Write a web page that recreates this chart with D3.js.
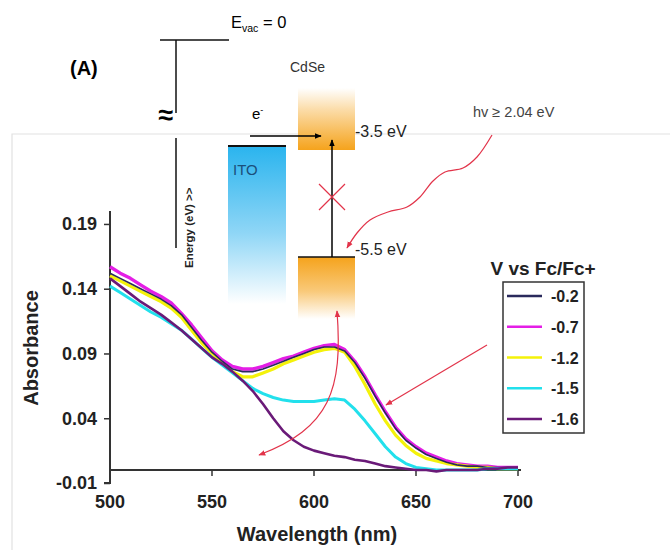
<!DOCTYPE html>
<html>
<head>
<meta charset="utf-8">
<script src="https://d3js.org/d3.v7.min.js"></script>
<style>
  body { margin: 0; background: #fff; }
  text { font-family: Arial, "Liberation Sans", sans-serif; }
</style>
</head>
<body>
<script>
// absorbance spectra, one value per 5 nm
var wavelengths = d3.range(500, 701, 5);

var seriesNames = ["-0.2", "-0.7", "-1.2", "-1.5", "-1.6"];
var seriesColors = ["#2a2a5c", "#e41ee6", "#f4f20a", "#22e0ec", "#6a1a78"];

var absM02 = [0.152, 0.148, 0.144, 0.140, 0.136, 0.132, 0.127, 0.120, 0.110, 0.100,
              0.091, 0.084, 0.078, 0.076, 0.076, 0.078, 0.081, 0.084, 0.087, 0.090,
              0.093, 0.095, 0.095, 0.092, 0.083, 0.071, 0.057, 0.044, 0.032, 0.023,
              0.017, 0.012, 0.009, 0.006, 0.004, 0.003, 0.003, 0.002, 0.002, 0.002, 0.002];
var absM07 = [0.157, 0.152, 0.148, 0.143, 0.138, 0.134, 0.129, 0.121, 0.112, 0.102,
              0.092, 0.085, 0.080, 0.078, 0.078, 0.080, 0.083, 0.086, 0.088, 0.091,
              0.094, 0.096, 0.097, 0.093, 0.084, 0.072, 0.058, 0.045, 0.033, 0.024,
              0.018, 0.013, 0.010, 0.007, 0.005, 0.004, 0.003, 0.003, 0.002, 0.002, 0.002];
var absM12 = [0.150, 0.146, 0.142, 0.138, 0.134, 0.130, 0.125, 0.118, 0.108, 0.098,
              0.090, 0.082, 0.076, 0.072, 0.072, 0.075, 0.078, 0.082, 0.085, 0.088,
              0.091, 0.093, 0.094, 0.091, 0.080, 0.066, 0.051, 0.038, 0.027, 0.019,
              0.013, 0.009, 0.007, 0.005, 0.004, 0.003, 0.002, 0.002, 0.001, 0.001, 0.001];
var absM15 = [0.142, 0.137, 0.132, 0.127, 0.122, 0.118, 0.113, 0.108, 0.101, 0.094,
              0.087, 0.081, 0.075, 0.069, 0.063, 0.059, 0.056, 0.054, 0.053, 0.053,
              0.053, 0.054, 0.055, 0.054, 0.047, 0.038, 0.028, 0.018, 0.010, 0.005,
              0.002, 0.001, 0.000, 0.000, 0.000, 0.000, 0.000, 0.001, 0.001, 0.001, 0.001];
var absM16 = [0.148, 0.142, 0.136, 0.130, 0.125, 0.120, 0.114, 0.108, 0.101, 0.094,
              0.087, 0.082, 0.076, 0.069, 0.061, 0.051, 0.040, 0.030, 0.023, 0.018,
              0.015, 0.013, 0.011, 0.010, 0.008, 0.007, 0.005, 0.003, 0.002, 0.001,
              0.000, 0.000, -0.001, 0.000, 0.000, 0.000, 0.000, 0.001, 0.001, 0.002, 0.002];

var seriesValues = [absM02, absM07, absM12, absM15, absM16];
var drawOrder = [1, 2, 0, 3, 4];
var strokeWidths = [1.6, 3.4, 3.2, 3, 2.6];

var yTicks = [-0.01, 0.04, 0.09, 0.14, 0.19];
var xTicks = [500, 550, 600, 650, 700];

var width = 670, height = 550;

var svg = d3.select("body").append("svg")
    .attr("width", width)
    .attr("height", height);

var defs = svg.append("defs");

function vGradient(id, stops) {
    var g = defs.append("linearGradient")
        .attr("id", id)
        .attr("x1", 0).attr("y1", 0)
        .attr("x2", 0).attr("y2", 1);
    stops.forEach(function (s) {
        g.append("stop").attr("offset", s[0]).attr("stop-color", s[1]);
    });
}
vGradient("cdseTop", [["0%", "#ffffff"], ["35%", "#fbdca8"], ["100%", "#f5a31c"]]);
vGradient("cdseBot", [["0%", "#f5a31c"], ["55%", "#f9c979"], ["100%", "#ffffff"]]);
vGradient("ito", [["0%", "#2ab4ee"], ["55%", "#8fd6f6"], ["100%", "#ffffff"]]);

var red = "#e2344a";
var arrow = function (id, color) {
    defs.append("marker")
        .attr("id", id)
        .attr("viewBox", "0 0 10 10")
        .attr("refX", 9).attr("refY", 5)
        .attr("markerWidth", 7).attr("markerHeight", 7)
        .attr("orient", "auto-start-reverse")
        .attr("markerUnits", "userSpaceOnUse")
        .append("path")
        .attr("d", "M0,1 L10,5 L0,9 z")
        .attr("fill", color);
};
arrow("arrBlack", "#000");
arrow("arrRed", red);

// frame of the pasted spectrum picture
svg.append("path")
    .attr("d", "M12,550 L12,134 L670,134")
    .attr("fill", "none")
    .attr("stroke", "#e2e2e2")
    .attr("stroke-width", 1.2);

// ---------- energy diagram ----------
var diag = svg.append("g");

diag.append("text").attr("x", 70).attr("y", 75)
    .attr("font-size", 20).attr("font-weight", "bold").text("(A)");

diag.append("line").attr("x1", 160).attr("y1", 40).attr("x2", 229).attr("y2", 40)
    .attr("stroke", "#111").attr("stroke-width", 1.5);
diag.append("line").attr("x1", 176).attr("y1", 40).attr("x2", 176).attr("y2", 113)
    .attr("stroke", "#111").attr("stroke-width", 1.5);
diag.append("line").attr("x1", 176).attr("y1", 138).attr("x2", 176).attr("y2", 248)
    .attr("stroke", "#111").attr("stroke-width", 1.5);
diag.append("text").attr("x", 166).attr("y", 124).attr("text-anchor", "middle")
    .attr("font-size", 27).attr("font-weight", "bold").text("\u2248");

var evac = diag.append("text").attr("x", 231).attr("y", 28).attr("font-size", 16.5);
evac.append("tspan").text("E");
evac.append("tspan").attr("font-size", 10.5).attr("dy", 4).text("vac");
evac.append("tspan").attr("dy", -4).text(" = 0");

diag.append("text")
    .attr("transform", "translate(193,268) rotate(-90)")
    .attr("font-size", 11.5).attr("font-weight", "bold").attr("fill", "#222")
    .text("Energy (eV) >>");

diag.append("rect").attr("x", 228).attr("y", 146).attr("width", 58).attr("height", 158)
    .attr("fill", "url(#ito)");
diag.append("line").attr("x1", 228).attr("y1", 146).attr("x2", 286).attr("y2", 146)
    .attr("stroke", "#111").attr("stroke-width", 2);
diag.append("text").attr("x", 233).attr("y", 175).attr("font-size", 15)
    .attr("fill", "#1b4f7a").text("ITO");

diag.append("text").attr("x", 290).attr("y", 72).attr("font-size", 14)
    .attr("fill", "#333").text("CdSe");
diag.append("rect").attr("x", 298).attr("y", 88).attr("width", 57).attr("height", 62)
    .attr("fill", "url(#cdseTop)");
diag.append("rect").attr("x", 298).attr("y", 257).attr("width", 57).attr("height", 62)
    .attr("fill", "url(#cdseBot)");
diag.append("line").attr("x1", 298).attr("y1", 257).attr("x2", 355).attr("y2", 257)
    .attr("stroke", "#111").attr("stroke-width", 1.5);

diag.append("text").attr("x", 355).attr("y", 137).attr("font-size", 16)
    .attr("fill", "#222").text("-3.5 eV");
diag.append("text").attr("x", 355).attr("y", 255).attr("font-size", 16)
    .attr("fill", "#222").text("-5.5 eV");

var eText = diag.append("text").attr("x", 252).attr("y", 119).attr("font-size", 15);
eText.append("tspan").text("e");
eText.append("tspan").attr("font-size", 9).attr("dy", -6).text("-");

diag.append("line").attr("x1", 250).attr("y1", 136).attr("x2", 321).attr("y2", 136)
    .attr("stroke", "#000").attr("stroke-width", 1.5)
    .attr("marker-end", "url(#arrBlack)");
diag.append("line").attr("x1", 332).attr("y1", 257).attr("x2", 332).attr("y2", 140)
    .attr("stroke", "#000").attr("stroke-width", 1.5)
    .attr("marker-end", "url(#arrBlack)");

diag.append("path")
    .attr("d", "M319,184 L345,210 M319,210 L345,184")
    .attr("stroke", red).attr("stroke-width", 1.2).attr("fill", "none");

diag.append("text").attr("x", 473).attr("y", 117).attr("font-size", 14.5)
    .attr("fill", "#444").text("hv \u2265 2.04 eV");

var wave = [[492, 135], [477, 157], [463, 168], [445, 172], [433, 181], [420, 197],
            [407, 207], [388, 212], [370, 220], [357, 233], [347, 248]];
diag.append("path")
    .attr("d", d3.line().curve(d3.curveCatmullRom)(wave))
    .attr("fill", "none").attr("stroke", red).attr("stroke-width", 1.2)
    .attr("marker-end", "url(#arrRed)");

// ---------- spectrum ----------
var x = d3.scaleLinear().domain([500, 700]).range([110, 518]);
var y = d3.scaleLinear().domain([-0.01, 0.2]).range([483, 211]);

var axisColor = "#333";

svg.append("line")
    .attr("x1", x(500)).attr("x2", x(700) + 3)
    .attr("y1", y(0)).attr("y2", y(0))
    .attr("stroke", axisColor).attr("stroke-width", 2);
svg.selectAll("line.xtick").data(xTicks).enter().append("line")
    .attr("class", "xtick")
    .attr("x1", function (d) { return x(d); }).attr("x2", function (d) { return x(d); })
    .attr("y1", y(0)).attr("y2", y(0) + 6)
    .attr("stroke", axisColor).attr("stroke-width", 1.5);
svg.selectAll("text.xlab").data(xTicks).enter().append("text")
    .attr("class", "xlab")
    .attr("x", function (d) { return x(d); })
    .attr("y", 508)
    .attr("text-anchor", "middle")
    .attr("font-size", 18).attr("font-weight", "bold").attr("fill", "#222")
    .text(function (d) { return d; });

var yAxis = svg.append("g")
    .attr("transform", "translate(" + x(500) + ",0)")
    .call(d3.axisLeft(y).tickValues(yTicks).tickSize(6)
        .tickFormat(function (d) { return d.toFixed(2); }));
yAxis.select(".domain").attr("stroke", axisColor).attr("stroke-width", 2)
    .attr("d", "M0," + y(0.2) + "V" + y(-0.01) + "H-6");
yAxis.selectAll(".tick line").attr("stroke", axisColor).attr("stroke-width", 1.5);
yAxis.selectAll(".tick text")
    .attr("font-size", 18).attr("font-weight", "bold").attr("fill", "#222")
    .attr("font-family", "Arial, 'Liberation Sans', sans-serif")
    .attr("x", -13);

svg.append("text")
    .attr("transform", "translate(38,348) rotate(-90)")
    .attr("text-anchor", "middle")
    .attr("font-size", 20).attr("font-weight", "bold").attr("fill", "#222")
    .text("Absorbance");
svg.append("text")
    .attr("x", 317).attr("y", 541)
    .attr("text-anchor", "middle")
    .attr("font-size", 20).attr("font-weight", "bold").attr("fill", "#222")
    .text("Wavelength (nm)");

var line = d3.line()
    .x(function (d) { return x(d[0]); })
    .y(function (d) { return y(d[1]); });

svg.append("g").selectAll("path.spec")
    .data(drawOrder)
    .enter().append("path")
    .attr("class", "spec")
    .attr("d", function (i) {
        return line(wavelengths.map(function (w, k) { return [w, seriesValues[i][k]]; }));
    })
    .attr("fill", "none")
    .attr("stroke", function (i) { return seriesColors[i]; })
    .attr("stroke-width", function (i) { return strokeWidths[i]; })
    .attr("stroke-linejoin", "round");

// red annotation arrows over the spectrum
svg.append("line")
    .attr("x1", 487).attr("y1", 345).attr("x2", 386).attr("y2", 405)
    .attr("stroke", red).attr("stroke-width", 1.2)
    .attr("marker-end", "url(#arrRed)");
svg.append("path")
    .attr("d", "M337,311 C343,390 330,428 259,455")
    .attr("fill", "none").attr("stroke", red).attr("stroke-width", 1.2)
    .attr("marker-start", "url(#arrRed)")
    .attr("marker-end", "url(#arrRed)");

// ---------- legend ----------
svg.append("text")
    .attr("x", 543).attr("y", 275)
    .attr("text-anchor", "middle")
    .attr("font-size", 19).attr("font-weight", "bold").attr("fill", "#222")
    .text("V vs Fc/Fc+");

svg.append("rect")
    .attr("x", 503).attr("y", 282).attr("width", 81).attr("height", 151)
    .attr("fill", "#fff").attr("stroke", "#333").attr("stroke-width", 1.5);

var legendY = d3.scalePoint().domain(seriesNames).range([296, 419]);
var legend = svg.append("g").selectAll("g")
    .data(seriesNames).enter().append("g")
    .attr("transform", function (d) { return "translate(0," + legendY(d) + ")"; });
legend.append("line")
    .attr("x1", 507).attr("x2", 542)
    .attr("stroke", function (d, i) { return seriesColors[i]; })
    .attr("stroke-width", 2.5);
legend.append("text")
    .attr("x", 551).attr("y", 6)
    .attr("font-size", 16).attr("font-weight", "bold").attr("fill", "#222")
    .text(function (d) { return d; });
</script>
</body>
</html>
